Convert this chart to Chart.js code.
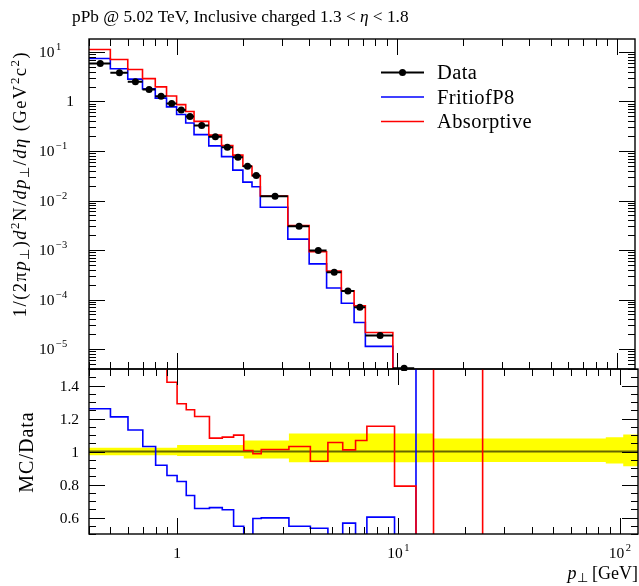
<!DOCTYPE html>
<html>
<head>
<meta charset="utf-8">
<script src="https://cdn.jsdelivr.net/npm/chart.js@4.4.1/dist/chart.umd.min.js"></script>
<style>
  html, body { margin: 0; padding: 0; background: #fff; }
  #wrap { position: relative; width: 639px; height: 586px; overflow: hidden;
          font-family: "Liberation Serif", serif; color: #000; }
  canvas { position: absolute; left: 0; top: 0; }
  .txt { position: absolute; white-space: nowrap; line-height: 1; }
  .txt sup, .txt sub { font-size: 70%; line-height: 0; }
  .txt sub { vertical-align: -0.25em; }
  .txt sup { vertical-align: 0.55em; }
  #title { left: 72px; top: 8px; font-size: 17.3px; }
  #ylabel { left: 20px; top: 184px; font-size: 18.5px; letter-spacing: 1.5px;
            transform: translate(-50%, -50%) rotate(-90deg); }
  #rlabel { left: 26px; top: 452px; font-size: 20px; letter-spacing: 1px;
            transform: translate(-50%, -50%) rotate(-90deg); }
  #xlabel { right: 1px; top: 564px; font-size: 18px; }
</style>
</head>
<body>
<div id="wrap">
  <canvas id="chart-spectrum" width="639" height="586"></canvas>
  <canvas id="chart-ratio" width="639" height="586"></canvas>
  <div class="txt" id="title">pPb @ 5.02 TeV, Inclusive charged 1.3 &lt; <i>η</i> &lt; 1.8</div>
  <div class="txt" id="ylabel">1/(2π<i>p</i><sub>⊥</sub>)<i>d</i><sup>2</sup>N/<i>dp</i><sub>⊥</sub>/<i>dη</i> (GeV<sup>2</sup>c<sup>2</sup>)</div>
  <div class="txt" id="rlabel">MC/Data</div>
  <div class="txt" id="xlabel"><i>p</i><sub>⊥</sub> [GeV]</div>
</div>
<script>
// ===============================
// pT bins (GeV)
// ===============================
const BIN_EDGES = [0.4, 0.5, 0.6, 0.7, 0.8, 0.9, 1.0, 1.1, 1.2, 1.4, 1.6, 1.8, 2.0, 2.2, 2.4,
  3.2, 4.0, 4.8, 5.6, 6.4, 7.2, 9.6, 12.0, 14.4, 19.2, 24.0, 28.8, 35.2, 41.6, 48.0,
  60.8, 73.6, 86.4, 103.6, 120.8];

// Spectrum (upper panel)
const DATA_Y = [5.86, 3.80, 2.50, 1.75, 1.28, 0.91, 0.67, 0.50, 0.327, 0.193, 0.119, 0.075,
  0.049, 0.032, 0.0122, 3.03e-3, 9.8e-4, 3.56e-4, 1.49e-4, 7.0e-5, 1.87e-5, 4.1e-6];
const FRITIOF_Y = [7.38, 4.60, 2.83, 1.80, 1.17, 0.778, 0.548, 0.367, 0.214, 0.127, 0.077, 0.041,
  0.0235, 0.019, 7.3e-3, 1.66e-3, 5.24e-4, 1.71e-4, 8.4e-5, 3.43e-5, 1.13e-5, 1.2e-6];
const ABSORPTIVE_Y = [11.2, 7.05, 4.43, 2.90, 1.97, 1.29, 0.864, 0.627, 0.396, 0.209, 0.129, 0.0824,
  0.0493, 0.0316, 0.01235, 3.12e-3, 9.22e-4, 3.76e-4, 1.505e-4, 7.47e-5, 2.16e-5, 3.24e-6];

// MC/Data (lower panel)
const FRITIOF_RATIO = [1.259, 1.21, 1.13, 1.03, 0.917, 0.855, 0.818, 0.733, 0.655, 0.66, 0.647, 0.547,
  0.48, 0.594, 0.598, 0.547, 0.535, 0.48, 0.566, 0.49, 0.602, 0.29, 2.2,
  null, null, null, null, null, null, null, null, null, null, null];
const ABSORPTIVE_RATIO = [1.91, 1.86, 1.77, 1.66, 1.55, 1.42, 1.289, 1.253, 1.212, 1.081, 1.087, 1.099,
  1.006, 0.986, 1.012, 1.03, 0.941, 1.055, 1.01, 1.067, 1.153, 0.79, 0.3, 1.9, 1.9, 0.2,
  null, null, null, null, null, null, null, null];

// Data uncertainty band (relative, up / down)
const BAND_UP = [0.022, 0.022, 0.022, 0.022, 0.022, 0.022, 0.040, 0.040, 0.040, 0.040, 0.040, 0.040,
  0.067, 0.067, 0.067, 0.109, 0.109, 0.109, 0.109, 0.109, 0.109, 0.109, 0.109,
  0.079, 0.079, 0.079, 0.079, 0.079, 0.079, 0.079, 0.079, 0.079, 0.087, 0.103];
const BAND_DN = [0.022, 0.022, 0.022, 0.022, 0.022, 0.022, 0.028, 0.028, 0.028, 0.028, 0.028, 0.028,
  0.042, 0.042, 0.042, 0.065, 0.065, 0.065, 0.065, 0.065, 0.065, 0.065, 0.065,
  0.063, 0.063, 0.063, 0.063, 0.063, 0.063, 0.063, 0.063, 0.063, 0.073, 0.089];

// Axis ticks and labels
const X_MAJOR = [1, 10, 100];
const X_LABELS = ["1", "10^1", "10^2"];
const SPEC_Y_MAJOR = [10, 1, 0.1, 0.01, 1e-3, 1e-4, 1e-5];
const SPEC_Y_LABELS = ["10^1", "1", "10^-1", "10^-2", "10^-3", "10^-4", "10^-5"];
const RATIO_Y_MAJOR = [0.6, 0.8, 1.0, 1.2, 1.4];
const RATIO_Y_LABELS = ["0.6", "0.8", "1", "1.2", "1.4"];

const X_MIN = 0.4, X_MAX = 120.8;
const SPEC_Y_MIN = 3.95e-6, SPEC_Y_MAX = 18.3;
const RATIO_Y_MIN = 0.5, RATIO_Y_MAX = 1.5;

const BLUE = "#0000ff";
const RED = "#ff0000";
const FONT = '"Liberation Serif", serif';

// minor ticks for log axes: 2..9 in each decade
function logMinors(decades) {
  const out = [];
  decades.forEach(d => { for (let k = 2; k <= 9; k++) out.push(k * d); });
  return out;
}
const X_MINOR = logMinors([0.1, 1, 10]);
const SPEC_Y_MINOR = logMinors([1e-6, 1e-5, 1e-4, 1e-3, 1e-2, 0.1, 1, 10]);
const RATIO_Y_MINOR = [];
for (let i = 10; i <= 30; i++) {
  const v = i * 0.05;
  if (!RATIO_Y_MAJOR.some(m => Math.abs(m - v) < 1e-6)) RATIO_Y_MINOR.push(v);
}

// ===============================
// Helpers
// ===============================
// histogram -> step points (value at left edge, closed at right edge)
function histPoints(values) {
  const pts = [];
  values.forEach((v, i) => {
    pts.push({ x: BIN_EDGES[i], y: v });
    const next = values[i + 1];
    if (v != null && next == null) pts.push({ x: BIN_EDGES[i + 1], y: v });
  });
  return pts;
}

// horizontal bars across each bin
function binBars(values) {
  const pts = [];
  values.forEach((v, i) => {
    pts.push({ x: BIN_EDGES[i], y: v }, { x: BIN_EDGES[i + 1], y: v }, { x: BIN_EDGES[i + 1], y: null });
  });
  return pts;
}

function binCenters(values) {
  return values.map((v, i) => ({ x: (BIN_EDGES[i] + BIN_EDGES[i + 1]) / 2, y: v }));
}

// "10^-3" -> base + raised exponent
function drawTickLabel(ctx, label, x, y, align) {
  const parts = label.split("^");
  const base = parts[0];
  const exp = parts[1] ? parts[1].replace("-", "\u2212") : "";
  ctx.font = "15.5px " + FONT;
  const wb = ctx.measureText(base).width;
  ctx.font = "10.5px " + FONT;
  const we = exp ? ctx.measureText(exp).width + 1.5 : 0;
  let left;
  if (align === "right") left = x - wb - we;
  else if (align === "center") left = x - (wb + we) / 2;
  else left = x;
  ctx.textAlign = "left";
  ctx.font = "15.5px " + FONT;
  ctx.fillText(base, left, y);
  if (exp) {
    ctx.font = "10.5px " + FONT;
    ctx.fillText(exp, left + wb + 1.5, y - 7);
  }
}

// ===============================
// Frame, inward ticks, tick labels
// ===============================
const frameTicks = {
  id: "frameTicks",
  afterDatasetsDraw(chart, args, opts) {
    const { ctx, chartArea: a, scales: { x, y } } = chart;
    const MAJ = 16, MIN = 7;
    ctx.save();
    ctx.strokeStyle = "#000";
    ctx.fillStyle = "#000";
    ctx.lineWidth = 1;

    const xTick = (v, len) => {
      if (v < x.min || v > x.max) return;
      const px = Math.round(x.getPixelForValue(v)) + 0.5;
      ctx.beginPath();
      ctx.moveTo(px, a.bottom); ctx.lineTo(px, a.bottom - len);
      ctx.moveTo(px, a.top); ctx.lineTo(px, a.top + len);
      ctx.stroke();
    };
    const yTick = (v, len) => {
      if (v < y.min || v > y.max) return;
      const py = Math.round(y.getPixelForValue(v)) + 0.5;
      ctx.beginPath();
      ctx.moveTo(a.left, py); ctx.lineTo(a.left + len, py);
      ctx.moveTo(a.right, py); ctx.lineTo(a.right - len, py);
      ctx.stroke();
    };
    X_MAJOR.forEach(v => xTick(v, MAJ));
    X_MINOR.forEach(v => xTick(v, MIN));
    opts.yMajor.forEach(v => yTick(v, MAJ));
    opts.yMinor.forEach(v => yTick(v, MIN));

    ctx.lineWidth = 1.4;
    ctx.strokeRect(a.left, a.top, a.right - a.left, a.bottom - a.top);

    // y tick labels
    ctx.textBaseline = "alphabetic";
    opts.yMajor.forEach((v, i) => {
      const py = y.getPixelForValue(v);
      const lab = opts.yLabels[i];
      if (lab.includes("^")) drawTickLabel(ctx, lab, 39, py + 5, "left");
      else drawTickLabel(ctx, lab, opts.yLabelRight, py + 5, "right");
    });

    // x tick labels under the lower panel
    if (opts.xLabels) {
      X_MAJOR.forEach((v, i) => {
        drawTickLabel(ctx, X_LABELS[i], x.getPixelForValue(v), 558, "center");
      });
    }
    ctx.restore();
  }
};

// legend in the upper panel
const legendBox = {
  id: "legendBox",
  afterDatasetsDraw(chart, args, opts) {
    if (!opts.items) return;
    const ctx = chart.ctx;
    ctx.save();
    opts.items.forEach((it, i) => {
      const yy = 72.5 + i * 24.5;
      ctx.strokeStyle = it.color;
      ctx.lineWidth = it.dot ? 2 : 1.6;
      ctx.beginPath();
      ctx.moveTo(381, yy); ctx.lineTo(424, yy);
      ctx.stroke();
      if (it.dot) {
        ctx.fillStyle = it.color;
        ctx.beginPath();
        ctx.arc(402.5, yy, 3.5, 0, Math.PI * 2);
        ctx.fill();
      }
      ctx.fillStyle = "#000";
      ctx.font = "20.5px " + FONT;
      ctx.letterSpacing = "0.4px";
      ctx.textAlign = "left";
      ctx.fillText(it.text, 437, yy + 6.5);
    });
    ctx.restore();
  }
};

function fixedAxis(type, min, max, size, isX) {
  return {
    type, min, max, bounds: "data",
    ticks: { display: false },
    grid: { display: false },
    border: { display: false },
    afterFit: s => { if (isX) s.height = size; else s.width = size; }
  };
}

function stepLine(values, color, width) {
  return {
    data: histPoints(values),
    borderColor: color, borderWidth: width,
    stepped: "before", pointRadius: 0, fill: false, spanGaps: false, clip: 0
  };
}

// ===============================
// Upper panel: spectrum
// ===============================
new Chart(document.getElementById("chart-spectrum"), {
  type: "line",
  data: {
    datasets: [
      {
        data: binCenters(DATA_Y),
        showLine: false, pointRadius: 3.5, pointBackgroundColor: "#000",
        pointBorderWidth: 0, clip: 2
      },
      {
        data: binBars(DATA_Y),
        borderColor: "#000", borderWidth: 2, pointRadius: 0, spanGaps: false, clip: 0
      },
      stepLine(ABSORPTIVE_Y, RED, 1.6),
      stepLine(FRITIOF_Y, BLUE, 1.6)
    ]
  },
  options: {
    responsive: false, animation: false, devicePixelRatio: 1,
    layout: { padding: { top: 39, right: 1, left: 0, bottom: 0 } },
    scales: {
      x: fixedAxis("logarithmic", X_MIN, X_MAX, 586 - 369, true),
      y: fixedAxis("logarithmic", SPEC_Y_MIN, SPEC_Y_MAX, 89, false)
    },
    plugins: {
      legend: { display: false }, tooltip: { enabled: false },
      frameTicks: { yMajor: SPEC_Y_MAJOR, yMinor: SPEC_Y_MINOR, yLabels: SPEC_Y_LABELS, yLabelRight: 74 },
      legendBox: {
        items: [
          { text: "Data", color: "#000", dot: true },
          { text: "FritiofP8", color: BLUE },
          { text: "Absorptive", color: RED }
        ]
      }
    }
  },
  plugins: [frameTicks, legendBox]
});

// ===============================
// Lower panel: MC / Data
// ===============================
new Chart(document.getElementById("chart-ratio"), {
  type: "line",
  data: {
    datasets: [
      stepLine(ABSORPTIVE_RATIO, RED, 1.6),
      stepLine(FRITIOF_RATIO, BLUE, 1.6),
      {
        data: [{ x: X_MIN, y: 1 }, { x: X_MAX, y: 1 }],
        borderColor: "rgba(0,0,0,0.6)", borderWidth: 2, pointRadius: 0, clip: 0
      },
      {
        data: histPoints(BAND_UP.map(u => 1 + u)),
        borderWidth: 0, borderColor: "rgba(0,0,0,0)", backgroundColor: "#ffff00",
        stepped: "before", pointRadius: 0, fill: "+1", clip: 0
      },
      {
        data: histPoints(BAND_DN.map(d => 1 - d)),
        borderWidth: 0, borderColor: "rgba(0,0,0,0)",
        stepped: "before", pointRadius: 0, fill: false, clip: 0
      }
    ]
  },
  options: {
    responsive: false, animation: false, devicePixelRatio: 1,
    layout: { padding: { top: 369, right: 1, left: 0, bottom: 0 } },
    scales: {
      x: fixedAxis("logarithmic", X_MIN, X_MAX, 586 - 534, true),
      y: fixedAxis("linear", RATIO_Y_MIN, RATIO_Y_MAX, 89, false)
    },
    plugins: {
      legend: { display: false }, tooltip: { enabled: false },
      frameTicks: { yMajor: RATIO_Y_MAJOR, yMinor: RATIO_Y_MINOR, yLabels: RATIO_Y_LABELS, yLabelRight: 79, xLabels: true }
    }
  },
  plugins: [frameTicks]
});
</script>
</body>
</html>
